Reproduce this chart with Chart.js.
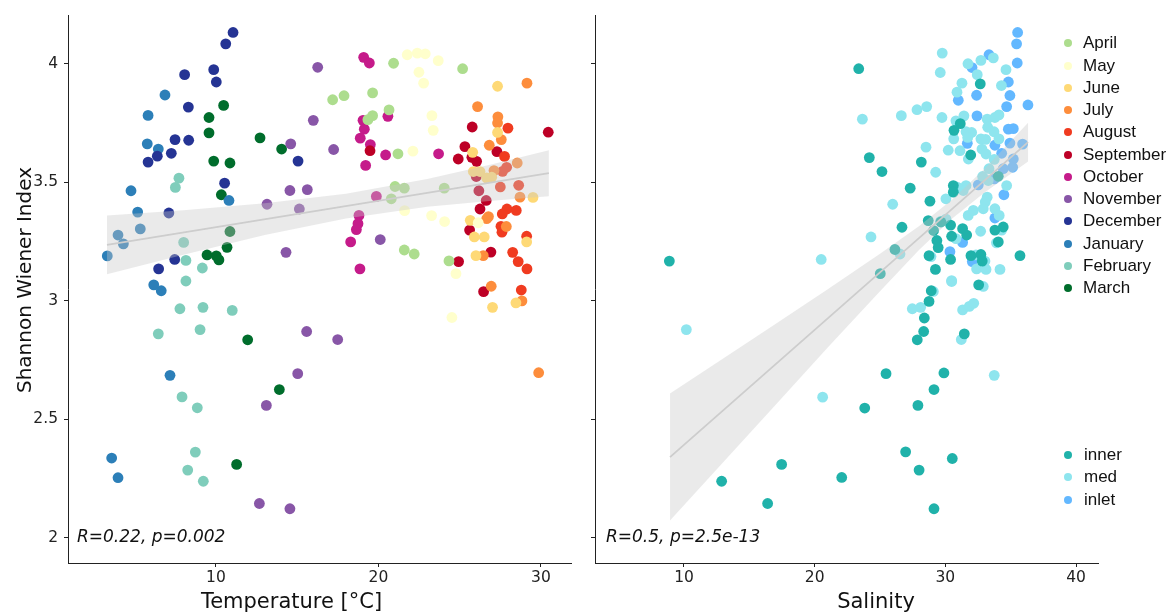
<!DOCTYPE html>
<html>
<head>
<meta charset="utf-8">
<script src="https://cdn.jsdelivr.net/npm/chart.js@4.4.1/dist/chart.umd.min.js"></script>
<style>
  html, body { margin:0; padding:0; background:#fff; width:1176px; height:615px; overflow:hidden; position:relative; }
  #cl { position:absolute; left:0; top:0; }
  #cr { position:absolute; left:580px; top:0; }
  .lg { position:absolute; font-family:"Liberation Sans", Arial, sans-serif; font-size:17px; color:#111; white-space:nowrap; line-height:20px; }
  .dot { position:absolute; width:8px; height:8px; border-radius:50%; }
</style>
</head>
<body>
<canvas id="cl" width="585" height="615"></canvas>
<canvas id="cr" width="596" height="615"></canvas>
<div id="legend"></div>
<script>
// ---------------- DATA ----------------
// Left panel: [temperature °C, Shannon Wiener Index] per month
const april = [[20.93,4.003],[25.18,3.98],[17.18,3.849],[17.88,3.866],[19.64,3.878],[20.65,3.806],[19.64,3.782],[19.35,3.765],[21.2,3.621],[21.02,3.483],[21.59,3.476],[20.79,3.431],[24.05,3.476],[21.59,3.215],[22.2,3.198],[24.34,3.169]];
const may = [[21.77,4.039],[22.39,4.046],[22.88,4.043],[23.68,4.014],[22.49,3.965],[22.78,3.919],[23.29,3.782],[23.37,3.72],[22.12,3.632],[21.61,3.381],[23.27,3.36],[24.07,3.335],[24.77,3.115],[24.52,2.93],[26.14,3.33]];
const june = [[27.33,3.906],[27.33,3.711],[25.8,3.627],[25.84,3.546],[26.25,3.546],[26.66,3.519],[26.97,3.522],[29.51,3.437],[25.65,3.34],[25.9,3.27],[26.51,3.27],[29.12,3.249],[26.0,3.191],[28.46,2.992],[27.02,2.973]];
const july = [[29.14,3.919],[26.1,3.82],[27.35,3.777],[27.33,3.751],[27.56,3.681],[26.82,3.657],[28.54,3.582],[27.11,3.55],[28.71,3.438],[26.77,3.356],[26.66,3.347],[27.87,3.314],[26.45,3.191],[26.94,3.062],[28.83,3.0],[29.86,2.697]];
const august = [[27.97,3.729],[27.76,3.61],[27.64,3.547],[27.89,3.564],[27.5,3.481],[28.63,3.488],[27.91,3.388],[28.48,3.382],[27.62,3.367],[27.54,3.315],[27.6,3.29],[29.12,3.273],[28.26,3.205],[28.6,3.166],[29.14,3.135],[28.79,3.046]];
const september = [[19.48,3.634],[25.77,3.734],[30.45,3.712],[25.32,3.651],[27.29,3.63],[24.91,3.599],[25.75,3.606],[26.04,3.589],[26.02,3.525],[26.18,3.465],[26.63,3.424],[26.25,3.388],[25.61,3.299],[26.92,3.206],[24.93,3.166],[26.47,3.039]];
const october = [[19.09,4.028],[19.44,4.004],[19.05,3.762],[19.13,3.725],[18.88,3.687],[19.5,3.66],[20.58,3.779],[19.21,3.572],[20.44,3.616],[23.7,3.621],[19.87,3.441],[18.8,3.361],[18.74,3.326],[18.64,3.301],[18.29,3.249],[18.86,3.135]];
const november = [[16.26,3.986],[15.99,3.762],[14.6,3.663],[14.55,3.466],[15.62,3.47],[13.14,3.408],[15.13,3.388],[14.31,3.205],[17.24,3.639],[15.58,2.871],[15.03,2.693],[13.1,2.559],[12.67,2.145],[14.55,2.123],[17.49,2.837],[20.11,3.259]];
const december = [[11.05,4.133],[10.6,4.085],[8.07,3.955],[9.86,3.976],[10.02,3.924],[8.3,3.818],[7.48,3.681],[8.32,3.678],[6.39,3.611],[5.82,3.586],[7.25,3.623],[15.05,3.59],[10.53,3.497],[7.1,3.371],[6.47,3.135],[7.46,3.175]];
const january = [[6.86,3.869],[5.82,3.783],[5.77,3.663],[6.45,3.641],[4.77,3.465],[5.18,3.375],[5.34,3.304],[3.97,3.278],[4.3,3.241],[3.31,3.19],[10.8,3.424],[6.17,3.068],[6.63,3.043],[3.58,2.337],[3.97,2.254],[7.17,2.686]];
const february = [[7.72,3.518],[7.5,3.479],[8.01,3.247],[8.15,3.171],[9.16,3.139],[8.15,3.084],[7.78,2.967],[9.2,2.973],[11.0,2.96],[6.45,2.861],[9.02,2.879],[7.91,2.595],[8.85,2.549],[8.73,2.362],[8.26,2.286],[9.22,2.239]];
const march = [[10.47,3.825],[9.57,3.774],[9.57,3.709],[12.71,3.688],[14.04,3.641],[9.86,3.59],[10.86,3.582],[10.33,3.448],[10.86,3.293],[10.68,3.226],[9.45,3.194],[10.02,3.19],[10.18,3.173],[11.95,2.836],[13.9,2.626],[11.27,2.31]];

const monthNames = ["April","May","June","July","August","September","October","November","December","January","February","March"];
const monthColors = ["#addd8e","#ffffcc","#fed976","#fd8d3c","#f03b20","#bd0026","#c51b8a","#8856a7","#253494","#2c7fb8","#7fcdbb","#006d2c"];
const monthData = [april,may,june,july,august,september,october,november,december,january,february,march];

// Right panel: [salinity, Shannon Wiener Index] per site
const inner = [[8.88,3.168],[12.88,2.239],[17.47,2.31],[16.4,2.145],[22.07,2.255],[28.92,3.043],[28.75,2.998],[28.39,2.928],[28.34,2.871],[27.85,2.836],[32.55,3.068],[31.45,2.861],[25.46,2.693],[29.89,2.696],[29.13,2.626],[23.83,2.548],[27.9,2.559],[26.96,2.363],[30.53,2.335],[27.99,2.286],[29.13,2.123],[23.37,3.98],[24.18,3.605],[25.15,3.546],[27.31,3.476],[26.68,3.311],[26.14,3.217],[25.02,3.115],[28.16,3.586],[28.82,3.421],[28.69,3.339],[32.67,3.916],[31.14,3.748],[30.66,3.72],[31.94,3.616],[34.05,3.526],[30.61,3.487],[30.61,3.459],[34.43,3.312],[33.79,3.299],[34.05,3.249],[29.66,3.333],[30.4,3.32],[31.32,3.305],[31.63,3.278],[30.48,3.273],[29.1,3.297],[29.35,3.255],[29.45,3.225],[28.75,3.191],[30.4,3.175],[31.96,3.191],[32.72,3.196],[32.82,3.168],[35.71,3.191],[29.24,3.133]];
const med = [[20.5,3.175],[10.18,2.879],[20.61,2.594],[29.08,3.04],[27.47,2.967],[28.11,2.973],[32.9,3.061],[30.48,3.082],[31.32,2.962],[31.83,2.977],[32.17,2.99],[31.22,2.837],[33.74,2.686],[23.65,3.767],[25.97,3.408],[24.31,3.27],[26.53,3.198],[29.76,4.046],[29.61,3.964],[26.63,3.782],[27.83,3.807],[28.57,3.82],[29.74,3.774],[28.52,3.649],[29.26,3.543],[30.04,3.431],[29.64,3.336],[33.67,4.026],[31.73,4.001],[32.72,4.015],[32.44,3.955],[34.64,3.976],[34.29,3.909],[31.27,3.919],[30.89,3.881],[30.81,3.76],[31.42,3.781],[33.2,3.767],[33.79,3.774],[34.1,3.785],[33.24,3.733],[31.58,3.714],[32.01,3.711],[33.72,3.714],[30.64,3.684],[31.71,3.69],[32.72,3.684],[33.08,3.682],[34.1,3.684],[30.22,3.636],[31.12,3.634],[32.8,3.641],[33.11,3.62],[31.76,3.599],[33.74,3.597],[33.34,3.558],[33.28,3.508],[32.85,3.525],[34.69,3.487],[31.58,3.487],[31.37,3.466],[33.2,3.438],[33.05,3.417],[31.75,3.361],[32.14,3.382],[32.9,3.389],[33.79,3.389],[34.12,3.361],[34.31,3.299],[33.91,3.245],[30.05,3.345],[30.81,3.263],[32.7,3.294],[28.9,3.187],[32.34,3.194],[33.03,3.168],[32.39,3.135],[33.11,3.133],[34.18,3.133],[30.48,3.086],[30.9,3.48]];
const inlet = [[35.53,4.133],[35.45,4.085],[35.5,4.004],[33.34,4.039],[32.04,3.985],[34.82,3.924],[30.99,3.847],[32.39,3.868],[34.94,3.867],[34.69,3.82],[36.32,3.827],[32.42,3.781],[34.82,3.725],[35.2,3.727],[31.68,3.665],[33.79,3.657],[34.94,3.666],[35.91,3.662],[34.31,3.623],[35.2,3.599],[35.15,3.564],[34.43,3.558],[33.74,3.515],[32.52,3.49],[34.48,3.448],[33.79,3.35],[31.32,3.247],[30.35,3.208],[32.06,3.166]];

const siteNames = ["inner","med","inlet"];
const siteColors = ["#20b2aa","#8ee5ee","#63b8ff"];
const siteData = [inner, med, inlet];

// Linear fits with 95% confidence band
const tempFitX   = [3.29, 30.49];
const tempFitY   = [3.237, 3.539];
const tempBandX  = [3.29, 8, 13, 18, 23, 27, 30.49];
const tempBandHi = [3.361, 3.383, 3.412, 3.452, 3.515, 3.577, 3.636];
const tempBandLo = [3.113, 3.195, 3.278, 3.348, 3.397, 3.423, 3.442];

const salFitX   = [8.93, 36.33];
const salFitY   = [2.341, 3.670];
const salBandX  = [8.93, 13, 17, 21, 25, 28, 30.5, 33, 36.33];
const salBandHi = [2.609, 2.757, 2.903, 3.049, 3.199, 3.316, 3.427, 3.558, 3.752];
const salBandLo = [2.073, 2.319, 2.561, 2.803, 3.041, 3.216, 3.347, 3.458, 3.588];

const yTicks = [2, 2.5, 3, 3.5, 4];
const tempTicks = [10, 20, 30];
const salTicks = [10, 20, 30, 40];
const corrTemp = "R=0.22, p=0.002";
const corrSal = "R=0.5, p=2.5e-13";
const yTitle = "Shannon Wiener Index";
const tempTitle = "Temperature [°C]";
const salTitle = "Salinity";

// ---------------- HELPERS ----------------
const pts = arr => arr.map(p => ({x: p[0], y: p[1]}));
const xy = (xs, ys) => xs.map((x, i) => ({x, y: ys[i]}));
const AX = '#222';
const TICKFONT = {family: 'DejaVu Sans', size: 15.5};

function fitDatasets(fx, fy, bx, bhi, blo) {
  return [
    {data: xy(fx, fy), showLine: true, borderColor: '#cdcdcd', borderWidth: 1.8, pointRadius: 0, order: 0, fill: false},
    {data: xy(bx, bhi), showLine: true, borderColor: 'rgba(0,0,0,0)', borderWidth: 0, pointRadius: 0, order: 1, fill: false},
    {data: xy(bx, blo), showLine: true, borderColor: 'rgba(0,0,0,0)', borderWidth: 0, pointRadius: 0, order: 1, fill: '-1', backgroundColor: 'rgba(200,200,200,0.38)'}
  ];
}
function pointDatasets(groups, colors) {
  return groups.map((g, i) => ({
    data: pts(g), pointRadius: 5.4, pointHoverRadius: 5.4, pointBorderWidth: 0,
    pointBackgroundColor: colors[i], backgroundColor: colors[i], borderColor: colors[i], order: 2
  }));
}
// correlation label + axis titles drawn as canvas text
function textPlugin(corr, dx, xTitle, xTitleCenter, yTitleOn) {
  return {
    id: 'texts',
    afterDatasetsDraw(chart) {
      const {ctx, chartArea, scales} = chart;
      ctx.save();
      ctx.font = 'italic 17px "DejaVu Sans"';
      ctx.fillStyle = '#111';
      ctx.textBaseline = 'middle';
      ctx.textAlign = 'left';
      ctx.fillText(corr, chartArea.left + dx, scales.y.getPixelForValue(2));
      ctx.restore();
    },
    afterDraw(chart) {
      const {ctx} = chart;
      ctx.save();
      ctx.fillStyle = '#111';
      ctx.font = '21px "DejaVu Sans"';
      ctx.textAlign = 'center';
      ctx.textBaseline = 'alphabetic';
      ctx.fillText(xTitle, xTitleCenter, 608);
      if (yTitleOn) {
        ctx.translate(30.5, 280);
        ctx.rotate(-Math.PI / 2);
        ctx.font = '20px "DejaVu Sans"';
        ctx.fillText(yTitle, 0, 0);
      }
      ctx.restore();
    }
  };
}
function xScale(min, max, ticks) {
  return {
    type: 'linear', min, max,
    afterBuildTicks: s => { s.ticks = ticks.map(v => ({value: v})); },
    afterFit: s => { s.height = 52; },
    grid: {drawOnChartArea: false, drawTicks: true, tickLength: 4, color: AX},
    border: {display: true, color: AX, width: 1},
    ticks: {font: TICKFONT, color: AX, padding: 2, maxRotation: 0, autoSkip: false, callback: v => String(v)},
    title: {display: false}
  };
}
function yScale(showLabels, width) {
  return {
    type: 'linear', min: 1.894, max: 4.2054,
    afterBuildTicks: s => { s.ticks = yTicks.map(v => ({value: v})); },
    afterFit: s => { s.width = width; },
    grid: {drawOnChartArea: false, drawTicks: true, tickLength: 4, color: AX},
    border: {display: true, color: AX, width: 1},
    ticks: {display: true, font: TICKFONT, color: AX, padding: 6, autoSkip: false,
            callback: v => showLabels ? String(v) : ''},
    title: {display: false}
  };
}
const common = {
  responsive: false, animation: false, events: [],
  plugins: {legend: {display: false}, tooltip: {enabled: false}},
};

new Chart(document.getElementById('cl'), {
  type: 'scatter',
  data: {datasets: [...fitDatasets(tempFitX, tempFitY, tempBandX, tempBandHi, tempBandLo), ...pointDatasets(monthData, monthColors)]},
  options: {...common,
    layout: {padding: {top: 12, right: 14, left: 0, bottom: 0}},
    scales: {x: xScale(0.892, 31.85, tempTicks), y: yScale(true, 68)}
  },
  plugins: [textPlugin(corrTemp, 9, tempTitle, 291.5, true)]
});

new Chart(document.getElementById('cr'), {
  type: 'scatter',
  data: {datasets: [...fitDatasets(salFitX, salFitY, salBandX, salBandHi, salBandLo), ...pointDatasets(siteData, siteColors)]},
  options: {...common,
    layout: {padding: {top: 12, right: 78, left: 0, bottom: 0}},
    scales: {x: xScale(3.19, 41.68, salTicks), y: yScale(false, 15)}
  },
  plugins: [textPlugin(corrSal, 11, salTitle, 876 - 580, false)]
});

// ---------------- LEGENDS (HTML) ----------------
const lg = document.getElementById('legend');
function addLegend(names, colors, y0, step, dotX, textX) {
  names.forEach((n, i) => {
    const cy = y0 + i * step;
    const d = document.createElement('div');
    d.className = 'dot';
    d.style.left = (dotX - 4) + 'px'; d.style.top = (cy - 4) + 'px';
    d.style.background = colors[i];
    lg.appendChild(d);
    const t = document.createElement('div');
    t.className = 'lg';
    t.style.left = textX + 'px'; t.style.top = (cy - 10) + 'px';
    t.textContent = n;
    lg.appendChild(t);
  });
}
addLegend(monthNames, monthColors, 43.3, 22.27, 1067.5, 1083);
addLegend(siteNames, siteColors, 454.8, 22.65, 1068, 1084);
</script>
</body>
</html>
